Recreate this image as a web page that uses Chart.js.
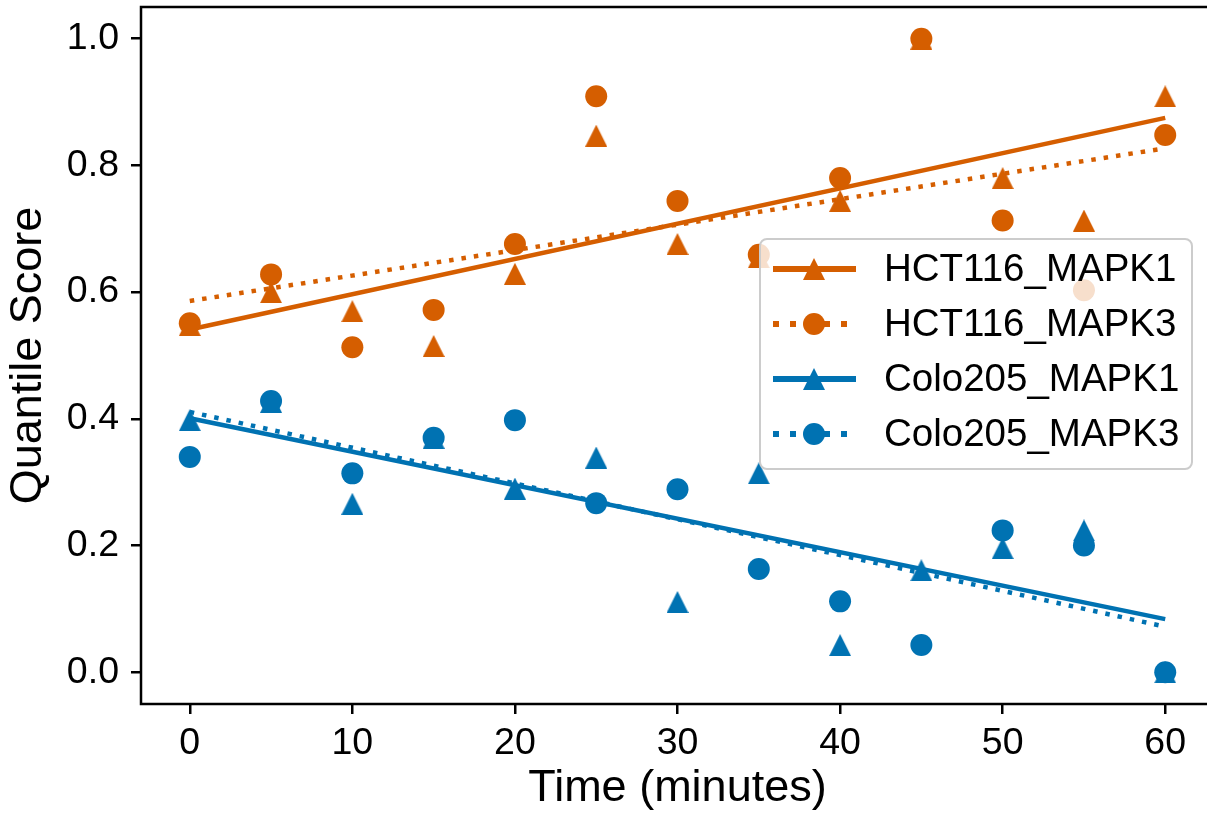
<!DOCTYPE html>
<html>
<head>
<meta charset="utf-8">
<script src="https://cdn.jsdelivr.net/npm/chart.js@4.4.0/dist/chart.umd.min.js"></script>
<style>
  html, body { margin: 0; padding: 0; background: #fff; overflow: hidden; }
  #wrap { width: 1230px; height: 822px; margin-top: -4px; }
</style>
</head>
<body>
<div id="wrap"><canvas id="myChart"></canvas></div>
<script>
// values
const times = [0, 5, 10, 15, 20, 25, 30, 35, 40, 45, 50, 55, 60];
const hct116Mapk1 = [0.548, 0.600, 0.570, 0.515, 0.629, 0.847, 0.676, 0.655, 0.744, 1.000, 0.780, 0.713, 0.909];
const hct116Mapk3 = [0.551, 0.628, 0.513, 0.572, 0.676, 0.909, 0.744, 0.659, 0.780, 1.000, 0.713, 0.603, 0.848];
const colo205Mapk1 = [0.398, 0.427, 0.266, 0.370, 0.290, 0.339, 0.111, 0.314, 0.043, 0.161, 0.196, 0.224, 0.000];
const colo205Mapk3 = [0.340, 0.428, 0.314, 0.370, 0.398, 0.267, 0.289, 0.163, 0.112, 0.043, 0.224, 0.200, 0.000];

// fitted trend lines, start and end values
const fitTimes = [0, 60];
const fitHct116Mapk1 = [0.541, 0.875];
const fitHct116Mapk3 = [0.586, 0.827];
const fitColo205Mapk1 = [0.401, 0.084];
const fitColo205Mapk3 = [0.411, 0.072];

const seriesNames = ['HCT116_MAPK1', 'HCT116_MAPK3', 'Colo205_MAPK1', 'Colo205_MAPK3'];
const xTickValues = [0, 10, 20, 30, 40, 50, 60];
const yTickValues = [0, 0.2, 0.4, 0.6, 0.8, 1.0];
const yTickLabels = ['0.0', '0.2', '0.4', '0.6', '0.8', '1.0'];

const orange = '#D55E00';
const blue = '#0072B2';
const fontFamily = '"Liberation Sans", Arial, Helvetica, sans-serif';

function makeTriangle(color, size) {
  let c = document.createElement('canvas');
  c.width = size;
  c.height = size;
  let g = c.getContext('2d');
  g.fillStyle = color;
  g.beginPath();
  g.moveTo(size / 2, 0);
  g.lineTo(size, size);
  g.lineTo(0, size);
  g.closePath();
  g.fill();
  return c;
}
const triOrange = makeTriangle(orange, 22);
const triBlue = makeTriangle(blue, 22);

function toPoints(xs, ys) {
  let pts = [];
  for (let i = 0; i < xs.length; i++) {
    pts.push({x: xs[i], y: ys[i]});
  }
  return pts;
}

function scatterSet(label, values, color, style, order) {
  return {
    label: label,
    data: toPoints(times, values),
    pointStyle: style,
    pointRadius: 11,
    pointHoverRadius: 11,
    backgroundColor: color,
    borderColor: color,
    borderWidth: 0,
    showLine: false,
    order: order
  };
}

function fitSet(label, values, color, dashed, order) {
  return {
    label: label,
    data: toPoints(fitTimes, values),
    showLine: true,
    pointRadius: 0,
    borderColor: color,
    borderWidth: 4.5,
    borderDash: dashed ? [4.5, 8] : [],
    borderCapStyle: 'butt',
    fill: false,
    order: order
  };
}

const legendEntries = [
  {name: seriesNames[0], color: orange, dashed: false, marker: triOrange},
  {name: seriesNames[1], color: orange, dashed: true, marker: 'circle'},
  {name: seriesNames[2], color: blue, dashed: false, marker: triBlue},
  {name: seriesNames[3], color: blue, dashed: true, marker: 'circle'}
];

const framePlugin = {
  id: 'frameAndLegend',
  afterDatasetsDraw(chart) {
    const ctx = chart.ctx;
    const a = chart.chartArea;
    ctx.save();
    ctx.strokeStyle = '#000';
    ctx.lineWidth = 2.5;
    ctx.strokeRect(a.left, a.top, a.right - a.left, a.bottom - a.top);

    // legend box (page is shifted up 4px, so add it back)
    const bx = 760, by = 243, bw = 432, bh = 230;
    ctx.beginPath();
    ctx.roundRect(bx, by, bw, bh, 7);
    ctx.fillStyle = 'rgba(255,255,255,0.8)';
    ctx.fill();
    ctx.strokeStyle = '#cccccc';
    ctx.lineWidth = 2;
    ctx.stroke();

    ctx.font = '38.5px ' + fontFamily;
    ctx.textBaseline = 'middle';
    ctx.textAlign = 'left';
    for (let i = 0; i < legendEntries.length; i++) {
      let e = legendEntries[i];
      let y = 273 + i * 55;
      ctx.beginPath();
      ctx.strokeStyle = e.color;
      ctx.lineWidth = 6;
      ctx.lineCap = 'butt';
      ctx.setLineDash(e.dashed ? [6, 11] : []);
      ctx.moveTo(773, y);
      ctx.lineTo(856, y);
      ctx.stroke();
      ctx.setLineDash([]);
      if (e.marker === 'circle') {
        ctx.beginPath();
        ctx.fillStyle = e.color;
        ctx.arc(814, y, 11, 0, Math.PI * 2);
        ctx.fill();
      } else {
        ctx.drawImage(e.marker, 814 - 11, y - 11);
      }
      ctx.fillStyle = '#000';
      ctx.fillText(e.name, 884, y + 1);
    }
    ctx.restore();
  }
};

new Chart(document.getElementById('myChart'), {
  type: 'scatter',
  data: {
    datasets: [
      fitSet(seriesNames[0], fitHct116Mapk1, orange, false, 10),
      fitSet(seriesNames[1], fitHct116Mapk3, orange, true, 9),
      fitSet(seriesNames[2], fitColo205Mapk1, blue, false, 8),
      fitSet(seriesNames[3], fitColo205Mapk3, blue, true, 7),
      scatterSet(seriesNames[0], hct116Mapk1, orange, triOrange, 6),
      scatterSet(seriesNames[1], hct116Mapk3, orange, 'circle', 5),
      scatterSet(seriesNames[2], colo205Mapk1, blue, triBlue, 4),
      scatterSet(seriesNames[3], colo205Mapk3, blue, 'circle', 3)
    ]
  },
  options: {
    responsive: true,
    maintainAspectRatio: false,
    devicePixelRatio: 1,
    animation: false,
    layout: { padding: { top: 3, right: 16, left: 0, bottom: 0 } },
    plugins: {
      legend: { display: false },
      tooltip: { enabled: false }
    },
    scales: {
      x: {
        type: 'linear',
        min: -3,
        max: 63,
        afterBuildTicks: (scale) => { scale.ticks = xTickValues.map(v => ({value: v})); },
        afterFit: (scale) => {
          scale.height = 114;
          scale.paddingLeft = 0;
          scale.paddingRight = 0;
        },
        grid: { drawOnChartArea: false, drawTicks: true, tickLength: 10, color: '#000', lineWidth: 2.5 },
        border: { display: false },
        ticks: {
          color: '#000',
          padding: 7,
          maxRotation: 0,
          font: { family: fontFamily, size: 37.5 },
          callback: (v) => String(v)
        },
        title: {
          display: true,
          text: 'Time (minutes)',
          color: '#000',
          font: { family: fontFamily, size: 45 },
          padding: { top: 0, bottom: 2 }
        }
      },
      y: {
        type: 'linear',
        min: -0.05,
        max: 1.05,
        afterBuildTicks: (scale) => { scale.ticks = yTickValues.map(v => ({value: v})); },
        afterFit: (scale) => {
          scale.width = 141;
          scale.paddingTop = 0;
          scale.paddingBottom = 0;
        },
        grid: { drawOnChartArea: false, drawTicks: true, tickLength: 10, color: '#000', lineWidth: 2.5 },
        border: { display: false },
        ticks: {
          color: '#000',
          padding: 12,
          font: { family: fontFamily, size: 37.5 },
          callback: (v, i) => yTickLabels[i]
        },
        title: {
          display: true,
          text: 'Quantile Score',
          color: '#000',
          font: { family: fontFamily, size: 45 },
          padding: { top: 2, bottom: 0 }
        }
      }
    }
  },
  plugins: [framePlugin]
});
</script>
</body>
</html>
